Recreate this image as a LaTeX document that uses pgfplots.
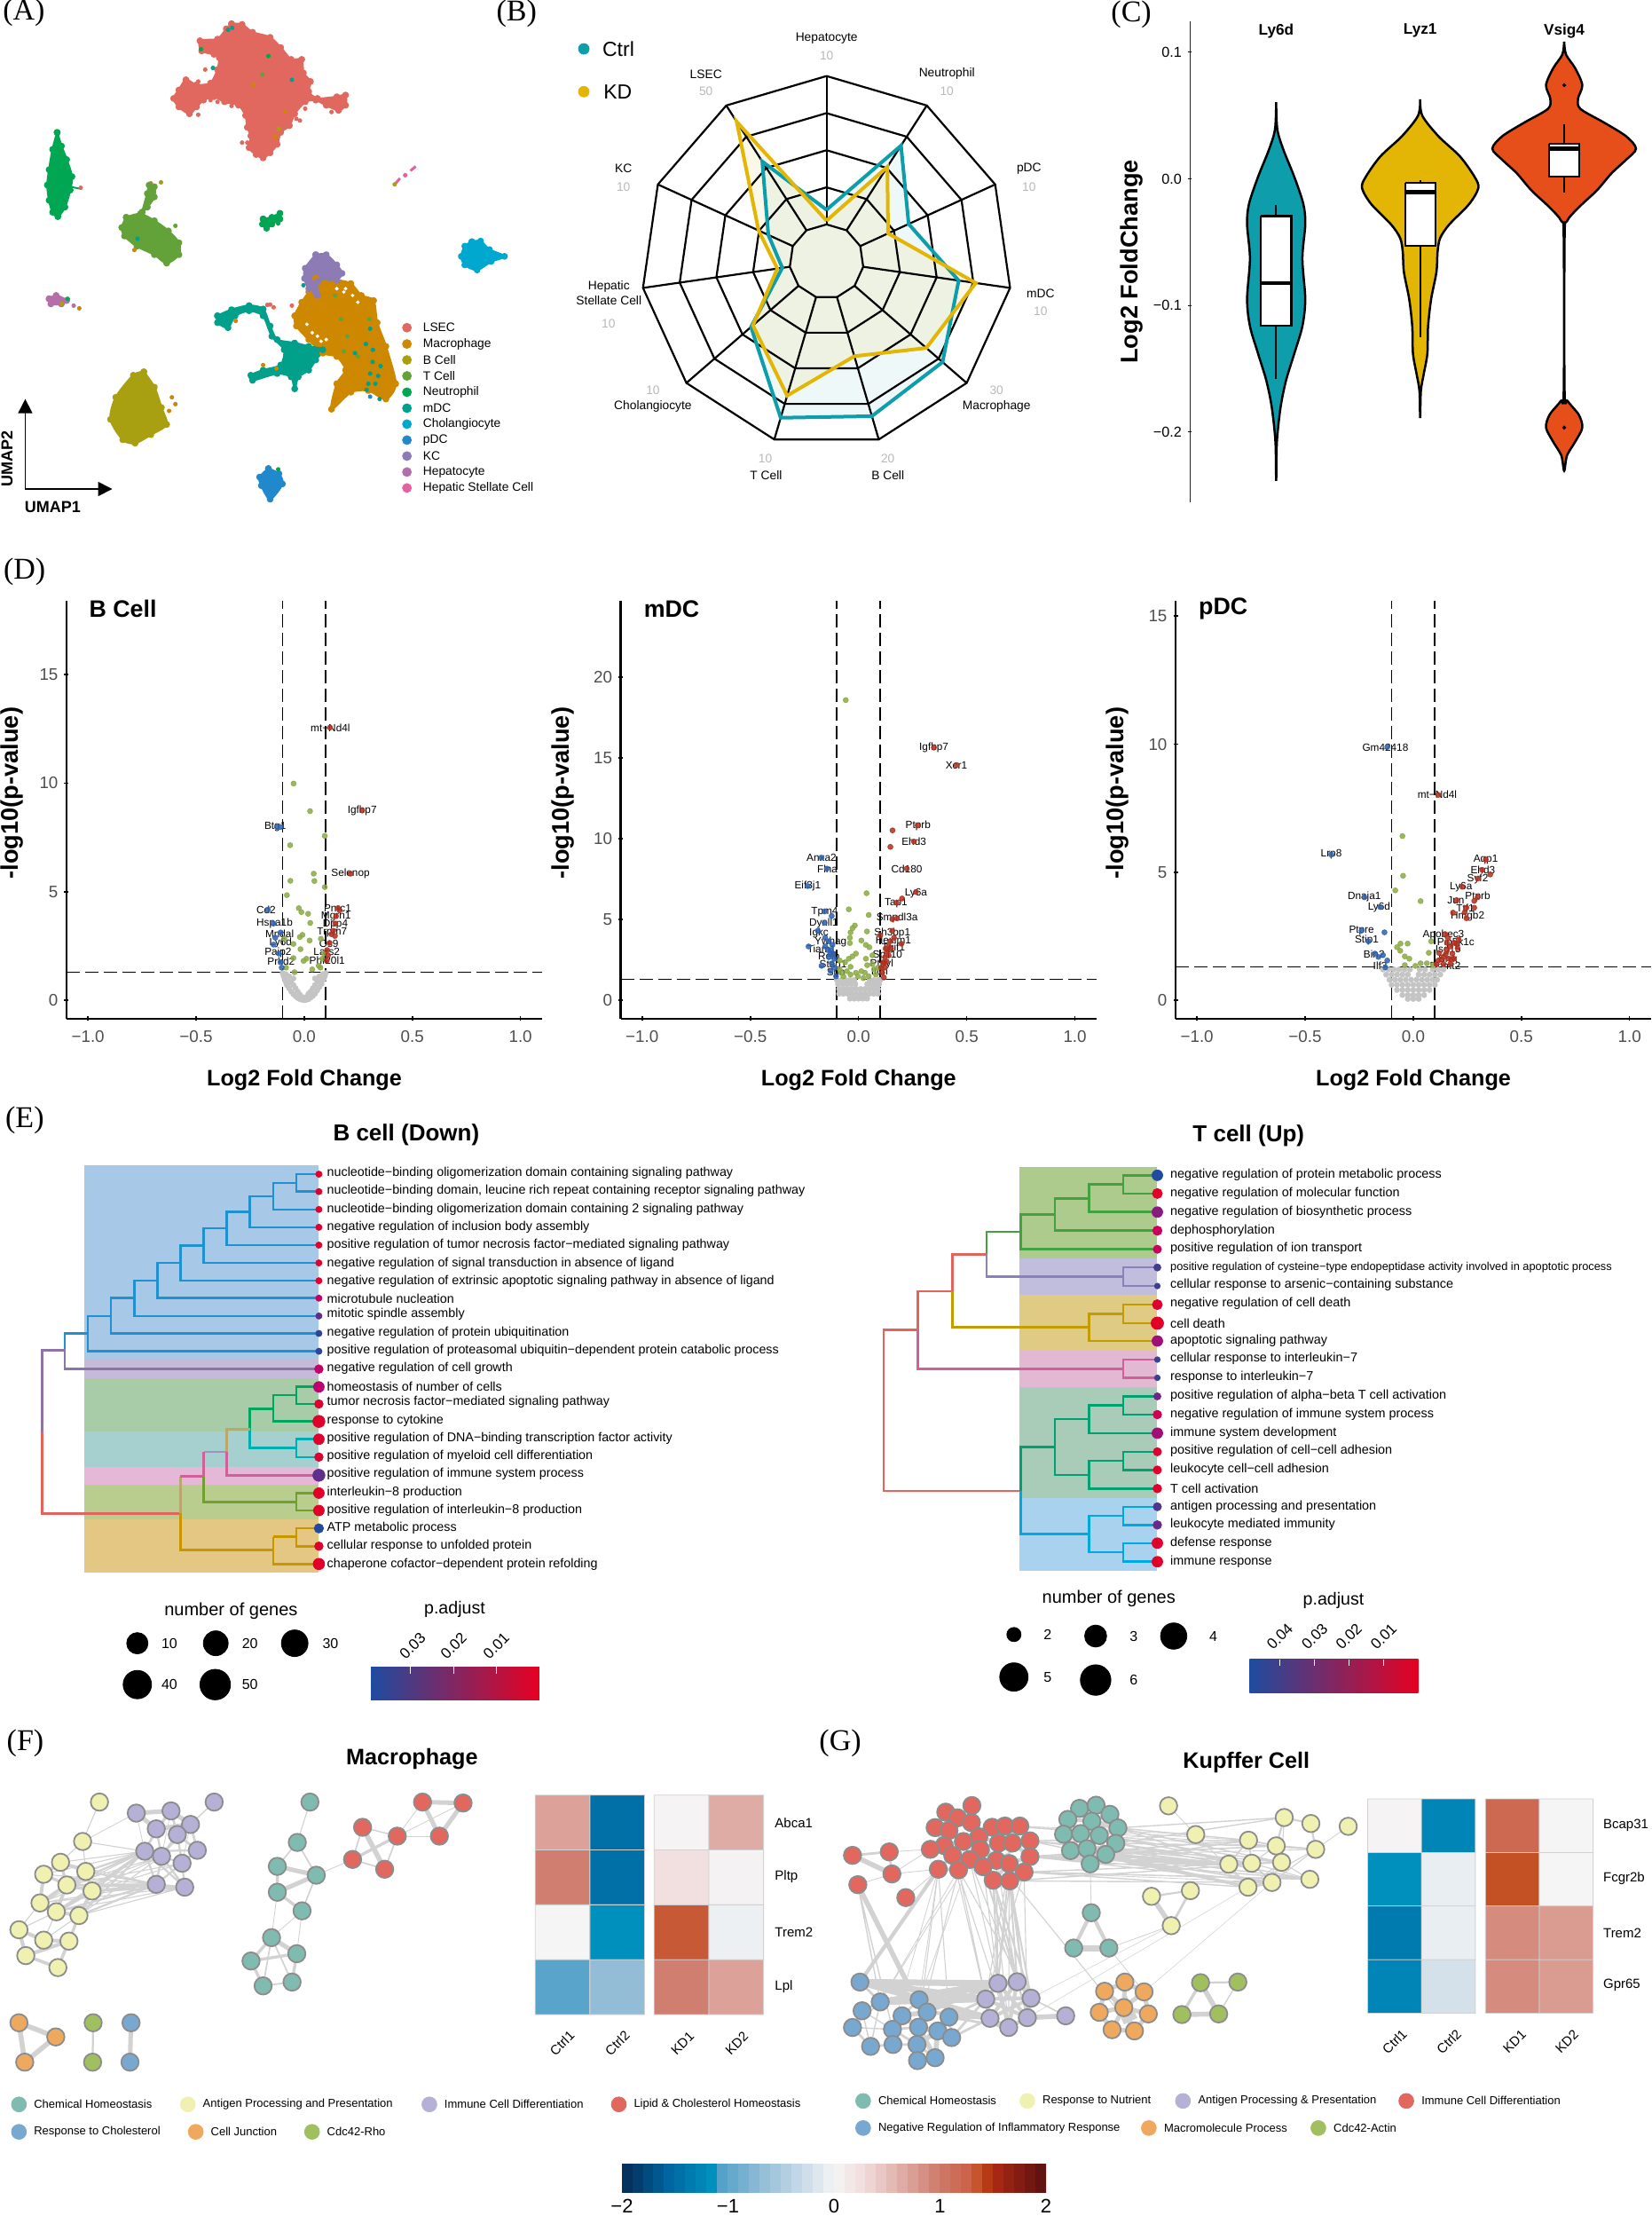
\documentclass[border=0pt]{standalone}
\usepackage{fontspec}
\setmainfont{Liberation Sans}
\newfontfamily\panelfont{Liberation Serif}
\usepackage{pgfplots}
\usepackage{pgfplotstable}
\usepgfplotslibrary{polar}
\usetikzlibrary{arrows.meta}
\pgfplotsset{compat=1.18}

\newcommand\fs[1]{\fontsize{#1}{#1}\selectfont}

% cluster colours
\definecolor{lsec}{HTML}{E0685F}\definecolor{macro}{HTML}{CE8800}\definecolor{bcell}{HTML}{A8A010}
\definecolor{tcell}{HTML}{62A238}\definecolor{neut}{HTML}{00A651}\definecolor{mdc}{HTML}{00A08A}
\definecolor{chol}{HTML}{00A8D0}\definecolor{pdc}{HTML}{2288CC}\definecolor{kc}{HTML}{8C7BB5}
\definecolor{hep}{HTML}{B46FA8}\definecolor{hsc}{HTML}{E85FA0}
\definecolor{ctrl}{HTML}{0E9DAB}\definecolor{kd}{HTML}{E3B505}\definecolor{vs}{HTML}{E64E1A}
\definecolor{tk}{HTML}{4D4D4D}\definecolor{vgray}{HTML}{C4C4C4}
\definecolor{vgreen}{HTML}{8BAA45}\definecolor{vred}{HTML}{B0301F}\definecolor{vblue}{HTML}{2F62AE}
\definecolor{ntea}{HTML}{7FBBB0}\definecolor{nyel}{HTML}{F0F0B0}\definecolor{npur}{HTML}{B5B0D5}
\definecolor{nred}{HTML}{E2685F}\definecolor{nblu}{HTML}{78A8D0}\definecolor{nora}{HTML}{EEA95F}
\definecolor{ngre}{HTML}{A0C060}\definecolor{edge}{HTML}{D2D2D2}
\definecolor{eb1}{HTML}{A8C8E8}\definecolor{eb2}{HTML}{C5BAD8}\definecolor{eb3}{HTML}{A8CBA8}\definecolor{eb4}{HTML}{A6CFD0}
\definecolor{eb5}{HTML}{E6B8D8}\definecolor{eb6}{HTML}{B9CD8F}\definecolor{eb7}{HTML}{E3C783}
\definecolor{tb1}{HTML}{AECB8E}\definecolor{tb2}{HTML}{C0BEDC}\definecolor{tb3}{HTML}{E0CB85}\definecolor{tb4}{HTML}{E2B8D3}
\definecolor{tb5}{HTML}{A8CCB8}\definecolor{tb6}{HTML}{A8D2EE}
\definecolor{l1}{HTML}{2190CF}\definecolor{l2}{HTML}{8E73A8}\definecolor{l3}{HTML}{E2645C}\definecolor{l4}{HTML}{00A560}
\definecolor{l5}{HTML}{00AEB0}\definecolor{l6}{HTML}{B9A76D}\definecolor{l7}{HTML}{D0609A}\definecolor{l8}{HTML}{6FA030}
\definecolor{l9}{HTML}{C89600}\definecolor{l10}{HTML}{9C94BE}
\definecolor{t1}{HTML}{45A040}\definecolor{t2}{HTML}{8B80BC}\definecolor{t3}{HTML}{C29C00}\definecolor{t4}{HTML}{00A070}\definecolor{t5}{HTML}{00A8E0}
\definecolor{pa}{HTML}{1F4CA0}\definecolor{pb}{HTML}{C0006E}\definecolor{pc}{HTML}{E60021}

\definecolor{h0}{HTML}{052A55}\definecolor{h1}{HTML}{0065A0}\definecolor{h2}{HTML}{0090BE}\definecolor{h3}{HTML}{4C9FC8}
\definecolor{h4}{HTML}{8FBBD6}\definecolor{h5}{HTML}{C8DAE8}\definecolor{h6}{HTML}{F5F5F5}\definecolor{h7}{HTML}{F0DCDB}
\definecolor{h8}{HTML}{DDA59D}\definecolor{h9}{HTML}{CF7A6A}\definecolor{h10}{HTML}{CC6045}\definecolor{h11}{HTML}{C04A15}
\definecolor{h12}{HTML}{AD2A15}\definecolor{h13}{HTML}{5A0F0F}
\pgfplotsset{
  colormap={padj}{rgb255(0pt)=(230,0,33); rgb255(1pt)=(192,0,110); rgb255(2pt)=(31,76,160)},
  colormap={rdbu}{color(0pt)=(h0); color(45pt)=(h1); color(85pt)=(h2); color(90pt)=(h3);
    color(130pt)=(h4); color(170pt)=(h5); color(200pt)=(h6); color(230pt)=(h7); color(270pt)=(h8);
    color(300pt)=(h9); color(330pt)=(h10); color(340pt)=(h11); color(350pt)=(h12); color(400pt)=(h13)},
  crop/.style n args={4}{at={(#1*0.5pt,{(2497-#2-#4)*0.5pt})},anchor=south west,scale only axis,
    width=#3*0.5pt,height=#4*0.5pt},
  zoomed/.style n args={4}{crop={#1}{#2}{#3}{#4},xmin=0,xmax=1568,ymin=0,ymax=1568,y dir=reverse,
    hide axis,clip=false},
  volcano/.style={scale only axis,clip=false,axis x line=bottom,axis y line=left,
    axis line style={line width=1.2pt,-},xmin=-1.099,xmax=1.1,xtick={-1,-0.5,0,0.5,1},
    xticklabels={−1.0,−0.5,0.0,0.5,1.0},xlabel={Log2 Fold Change},ylabel={-log10(p-value)},
    tick style={black,line width=0.8pt},major tick length=2.5pt,
    /pgf/number format/assume math mode=true,
    tick label style={font=\fs{9.4},text=tk},
    xticklabel style={yshift=-2pt},
    xlabel style={font=\fs{12.6}\bfseries,at={(axis description cs:0.5,-0.147)},anchor=center},
  },
  tips/.style={scatter,only marks,mark=*,point meta=\thisrow{p},
    scatter/use mapped color={fill=mapped color,draw=mapped color},
    visualization depends on={\thisrow{r}\as\rr},
    scatter/@pre marker code/.append style={/tikz/mark size=\rr pt}},
  vg/.style={only marks,mark=*,mark size=1.45pt,color=vgray,mark options={fill=vgray,draw=vgray}},
  vc/.style={only marks,mark=*,mark size=1.45pt,color=#1,mark options={fill=#1,draw=#1,fill opacity=0.85,draw opacity=0.85}},
}
\newcommand\glab[3]{\node[font=\fs{5.9},text=black] at (axis cs:#1,#2) {#3};}
\newcommand\vlines[2]{\addplot[black,line width=0.8pt,dash pattern=on 7.5pt off 3pt] coordinates {(-0.1,#1)(-0.1,#2)};
  \addplot[black,line width=0.8pt,dash pattern=on 7.5pt off 3pt] coordinates {(0.1,#1)(0.1,#2)};
  \addplot[black,line width=0.7pt,dash pattern=on 7.5pt off 3pt] coordinates {(-1.099,1.3)(1.1,1.3)};}
\newcommand\rectp[5]{\addplot[fill=#5,draw=none] coordinates {(#1,#2)(#3,#2)(#3,#4)(#1,#4)};}
\newcommand\segs[2]{\addplot[color=#1,line width=1.3pt,line join=miter] coordinates {#2};}
\newcommand\blob[2]{\addplot[fill=#1,draw=#1,line width=1.2pt,line join=round,smooth,tension=0.45,mark=*,mark size=1.3pt,mark options={fill=#1,draw=#1}] coordinates {#2};}
\newcommand\pts[3][1.05pt]{\addplot[only marks,mark=*,mark size=#1,mark options={fill=#2,draw=#2}] coordinates {#3};}
\newcommand\lgd[3]{\addplot[only marks,mark=*,mark size=2.5pt,mark options={fill=#1,draw=#1}] coordinates {(1160,#2)};
  \node[anchor=west,font=\fs{6.9},inner sep=0pt] at (axis cs:1205,#2) {#3};}
\newcommand\gtt[2]{\node[anchor=west,font=\fs{7.15},inner sep=0pt] at (axis cs:621,#1) {#2};}
\newcommand\guu[3][7.2]{\node[anchor=west,font=\fs{#1},inner sep=0pt] at (axis cs:654,#2) {#3};}
\newcommand\edg[2]{\addplot[edge,line width=#1*1.4,line join=round] coordinates {#2};}
\newcommand\nod[2]{\addplot[only marks,mark=*,mark size=4.9pt,mark options={fill=#1,draw=gray!90,line width=0.9pt}] coordinates {#2};}
\newcommand\szd[2]{\addplot[only marks,mark=*,mark size=#1,mark options={fill=black,draw=black}] coordinates {#2};}
\newcommand\txt[3]{\node[font=#1] at (axis cs:#2) {#3};}
\newcommand\nlg[4]{\addplot[only marks,mark=*,mark size=4.2pt,mark options={fill=#1,draw=#1}] coordinates {(#2,#3)};
  \node[anchor=west,font=\fs{6.5},inner sep=0pt] at (axis cs:#2+28,#3) {#4};}
\newcommand\tick[3]{\addplot[white,line width=0.5pt] coordinates {(#1,#2)(#1,#3)};}

\pgfplotstableread{
t r1 r2 r3 r4 r5
90 0.2 0.4 0.6 0.8 1
57.27 0.2 0.4 0.6 0.8 1
24.55 0.2 0.4 0.6 0.8 1
351.82 0.2 0.4 0.6 0.8 1
319.09 0.2 0.4 0.6 0.8 1
286.36 0.2 0.4 0.6 0.8 1
253.64 0.2 0.4 0.6 0.8 1
220.91 0.2 0.4 0.6 0.8 1
188.18 0.2 0.4 0.6 0.8 1
155.45 0.2 0.4 0.6 0.8 1
122.73 0.2 0.4 0.6 0.8 1
90 0.2 0.4 0.6 0.8 1
}\radargrid
\pgfplotstableread{
t ctrl kd
90 0.279 0.22
57.27 0.743 0.607
24.55 0.487 0.365
351.82 0.72 0.813
319.09 0.828 0.712
286.36 0.869 0.532
253.64 0.878 0.754
220.91 0.539 0.525
188.18 0.241 0.268
155.45 0.345 0.403
122.73 0.641 0.896
90 0.279 0.22
}\radardata

\begin{document}
\begin{tikzpicture}
\path[use as bounding box] (0,0) rectangle (931pt,1248.5pt);

% (A) UMAP
\begin{axis}[zoomed={0}{0}{620}{600}]
\blob{lsec}{(660,70)(690,72)(720,95)(770,110)(800,140)(830,175)(860,175)(865,215)(885,240)(880,270)(905,290)(960,285)(985,280)(985,310)(965,325)(930,310)(900,295)(870,300)(840,335)(825,370)(800,390)(790,425)(770,450)(750,465)(730,455)(710,435)(715,400)(705,375)(700,340)(680,310)(640,300)(610,285)(580,295)(560,315)(540,335)(510,315)(495,290)(510,265)(530,235)(560,250)(600,245)(620,205)(625,170)(610,160)(575,150)(570,120)(620,115)(645,85)(660,70)}
\pts{lsec}{(565,240)(585,205)(690,420)(705,420)(855,355)(870,320)(845,350)(945,330)(565,338)(600,295)(620,300)(660,312)(430,540)(770,897)(780,905)(762,898)(832,900)(230,553)}
\blob{neut}{(163,390)(175,430)(190,470)(205,520)(200,560)(185,610)(165,638)(150,625)(140,590)(135,545)(140,500)(150,440)(163,390)}
\addplot[neut,line width=1pt] coordinates {(200,550)(225,555)};
\blob{neut}{(750,645)(775,640)(798,628)(798,645)(775,660)(760,672)(748,660)(750,645)}
\blob{tcell}{(360,640)(400,630)(440,650)(480,680)(510,715)(510,750)(475,775)(440,750)(390,725)(355,695)(347,670)(360,640)}
\blob{tcell}{(405,625)(420,570)(425,545)(440,550)(440,580)(420,610)(405,625)}
\blob{chol}{(1345,712)(1370,710)(1395,735)(1438,755)(1400,770)(1360,795)(1325,780)(1315,755)(1325,725)(1345,712)}
\addplot[hsc,line width=1.5pt] coordinates {(1128,540)(1140,525)};
\addplot[hsc,line width=1.5pt] coordinates {(1170,503)(1185,490)};
\pts{hsc}{(1155,516)}
\blob{macro}{(900,820)(960,825)(1000,835)(1030,870)(1065,885)(1075,950)(1100,1020)(1128,1130)(1100,1175)(1050,1150)(1000,1155)(945,1205)(960,1130)(985,1090)(960,1050)(920,1040)(880,1000)(845,960)(840,930)(860,890)(880,860)(900,820)}
\blob{kc}{(900,750)(930,750)(960,780)(975,805)(960,825)(940,820)(905,830)(905,870)(880,850)(868,820)(870,790)(900,750)}
\blob{mdc}{(620,930)(660,912)(710,900)(750,910)(770,960)(790,1000)(840,1010)(880,1020)(920,1030)(900,1060)(880,1090)(850,1110)(840,1145)(830,1110)(790,1100)(720,1120)(715,1105)(750,1090)(800,1075)(810,1030)(775,990)(750,930)(710,915)(670,930)(650,965)(620,950)(620,930)}
\blob{hep}{(140,880)(160,870)(190,885)(175,895)(145,895)(140,880)}
\blob{bcell}{(410,1095)(440,1140)(460,1200)(475,1250)(430,1280)(385,1305)(350,1295)(315,1235)(330,1170)(380,1105)(410,1095)}
\blob{pdc}{(765,1380)(795,1395)(805,1425)(770,1470)(745,1430)(740,1405)(765,1380)}
\pts[0.8pt]{white}{(980,860)(905,990)(930,1000)(890,980)(1005,870)(1020,890)(960,850)(985,850)(915,1005)(875,955)}
\pts{mdc}{(650,88)(662,82)(607,200)(832,235)(392,703)(1043,1013)(1063,1030)(1012,1040)(1062,1066)(1085,1078)(1055,1100)(1078,1107)(1050,1130)(1070,1130)(1045,1148)(1082,1175)(1055,968)(865,840)}
\pts{neut}{(573,145)(765,165)(793,658)(193,880)(793,1382)}
\pts{tcell}{(748,220)(500,665)(972,940)(1053,940)(990,990)(980,1035)(1020,1050)(955,870)}
\pts{macro}{(723,250)(813,327)(785,403)(383,736)(490,1170)(500,1190)(482,1210)(226,908)(750,1075)(788,1085)(672,945)}
\pts{bcell}{(795,380)(459,537)(1125,543)(176,895)}
\pts{pdc}{(1055,1168)}
\pts{hep}{(210,900)}
\lgd{lsec}{965}{LSEC}\lgd{macro}{1013}{Macrophage}\lgd{bcell}{1060}{B Cell}\lgd{tcell}{1107}{T Cell}
\lgd{neut}{1155}{Neutrophil}\lgd{mdc}{1202}{mDC}\lgd{chol}{1249}{Cholangiocyte}\lgd{pdc}{1296}{pDC}
\lgd{kc}{1343}{KC}\lgd{hep}{1390}{Hepatocyte}\lgd{hsc}{1437}{Hepatic Stellate Cell}
\addplot[black,line width=0.8pt,-{Triangle[length=8pt,width=8pt]}] coordinates {(72,1440)(72,1175)};
\addplot[black,line width=0.8pt,-{Triangle[length=8pt,width=8pt]}] coordinates {(72,1440)(320,1440)};
\node[font=\fs{9}\bfseries,rotate=90] at (axis cs:20,1350) {UMAP2};
\node[font=\fs{9}\bfseries] at (axis cs:150,1493) {UMAP1};
\node[font=\fs{17}\panelfont] at (axis cs:68,38) {(A)};
\end{axis}

% (B) radar, radius fraction against angle
\begin{polaraxis}[at={(465.8pt,1101.15pt)},anchor=center,scale only axis,width=209pt,height=209pt,
  xmin=0,xmax=360,ymin=0,ymax=1,hide axis,clip=false]
\addplot[fill=ctrl,fill opacity=0.07,draw=none] table[x=t,y=ctrl] {\radardata};
\addplot[fill=kd,fill opacity=0.09,draw=none] table[x=t,y=kd] {\radardata};
\addplot[black,line width=1.1pt] table[x=t,y=r1] {\radargrid};
\addplot[black,line width=1.1pt] table[x=t,y=r2] {\radargrid};
\addplot[black,line width=1.1pt] table[x=t,y=r3] {\radargrid};
\addplot[black,line width=1.1pt] table[x=t,y=r4] {\radargrid};
\addplot[black,line width=1.1pt] table[x=t,y=r5] {\radargrid};
\pgfplotsinvokeforeach{90,57.27,24.55,351.82,319.09,286.36,253.64,220.91,188.18,155.45,122.73}{
  \addplot[black,line width=1.1pt] coordinates {(#1,0.2)(#1,1)};}
\addplot[ctrl,line width=2pt,line join=miter] table[x=t,y=ctrl] {\radardata};
\addplot[kd,line width=2pt,line join=miter] table[x=t,y=kd] {\radardata};
\end{polaraxis}
\begin{axis}[zoomed={560}{0}{660}{600}]
\addplot[only marks,mark=*,mark size=3pt,mark options={fill=ctrl,draw=ctrl}] coordinates {(233,144)};
\addplot[only marks,mark=*,mark size=3pt,mark options={fill=kd,draw=kd}] coordinates {(233,270)};
\node[font=\fs{11.5},anchor=west,inner sep=0pt] at (axis cs:282,145) {Ctrl};
\node[font=\fs{11.5},anchor=west,inner sep=0pt] at (axis cs:285,272) {KD};
\txt{\fs{6.9}}{883,113}{Hepatocyte}\txt{\fs{6.9}}{1205,217}{Neutrophil}\txt{\fs{6.9}}{1425,497}{pDC}
\txt{\fs{6.9}}{1456,865}{mDC}\txt{\fs{6.9}}{1338,1198}{Macrophage}\txt{\fs{6.9}}{1047,1400}{B Cell}
\txt{\fs{6.9}}{721,1400}{T Cell}\txt{\fs{6.9}}{418,1196}{Cholangiocyte}\txt{\fs{6.9}}{300,843}{Hepatic}
\txt{\fs{6.9}}{300,885}{Stellate Cell}\txt{\fs{6.9}}{339,497}{KC}\txt{\fs{6.9}}{560,218}{LSEC}
\txt{\fs{6.9}\color{black!28}}{883,163}{10}\txt{\fs{6.9}\color{black!28}}{1205,268}{10}\txt{\fs{6.9}\color{black!28}}{1425,550}{10}
\txt{\fs{6.9}\color{black!28}}{1456,916}{10}\txt{\fs{6.9}\color{black!28}}{1338,1148}{30}\txt{\fs{6.9}\color{black!28}}{1047,1351}{20}
\txt{\fs{6.9}\color{black!28}}{719,1351}{10}\txt{\fs{6.9}\color{black!28}}{418,1148}{10}\txt{\fs{6.9}\color{black!28}}{299,953}{10}
\txt{\fs{6.9}\color{black!28}}{339,550}{10}\txt{\fs{6.9}\color{black!28}}{560,268}{50}
\node[font=\fs{17}\panelfont] at (axis cs:53,40) {(B)};
\end{axis}

% (C) violins
\begin{axis}[crop={1341}{24}{521}{542},xmin=0.4,xmax=3.61,ymin=-0.2554,ymax=0.1245,clip=false,
  axis x line=none,axis y line=left,axis line style={-,line width=0.5pt,color=black!75!brown},
  ytick={-0.2,-0.1,0,0.1},yticklabels={−0.2,−0.1,0.0,0.1},tick style={black,line width=0.5pt},major tick length=2pt,
  tick label style={font=\fs{8.1}},ylabel={Log2 FoldChange},
  ylabel style={font=\fs{13.6}\bfseries,at={(axis description cs:-0.125,0.5)},anchor=center}]
\addplot[fill=ctrl,draw=black,line width=1.25pt,smooth,tension=0.5] coordinates {
(1,0.0606)(1.008,0.0392)(1.05,0.0231)(1.126,0.0016)(1.189,-0.0199)(1.202,-0.036)(1.182,-0.0628)(1.202,-0.095)(1.182,-0.1164)(1.126,-0.1379)(1.068,-0.1594)(1.03,-0.1808)(1.005,-0.2077)(1,-0.2385)
(0.995,-0.2077)(0.97,-0.1808)(0.932,-0.1594)(0.874,-0.1379)(0.818,-0.1164)(0.798,-0.095)(0.818,-0.0628)(0.798,-0.036)(0.811,-0.0199)(0.874,0.0016)(0.95,0.0231)(0.992,0.0392)(1,0.0606)};
\addplot[fill=kd,draw=black,line width=1.25pt,smooth,tension=0.5] coordinates {
(2,0.0628)(2.015,0.0499)(2.126,0.0338)(2.277,0.0177)(2.378,0.0016)(2.404,-0.0072)(2.34,-0.0199)(2.202,-0.036)(2.139,-0.0467)(2.121,-0.0574)(2.113,-0.0735)(2.076,-0.095)(2.055,-0.1164)(2.05,-0.1379)(2.025,-0.154)(2.005,-0.1674)(2,-0.1889)
(1.995,-0.1674)(1.975,-0.154)(1.95,-0.1379)(1.945,-0.1164)(1.924,-0.095)(1.887,-0.0735)(1.879,-0.0574)(1.861,-0.0467)(1.798,-0.036)(1.66,-0.0199)(1.596,-0.0072)(1.622,0.0016)(1.723,0.0177)(1.874,0.0338)(1.985,0.0499)(2,0.0628)};
\addplot[fill=vs,draw=black,line width=1.25pt,smooth,tension=0.5] coordinates {
(3,0.1084)(3.013,0.0982)(3.076,0.0875)(3.126,0.0741)(3.096,0.0633)(3.113,0.0553)(3.277,0.0445)(3.429,0.0338)(3.499,0.0239)(3.429,0.015)(3.328,0.0043)(3.227,-0.0091)(3.101,-0.0225)(3.02,-0.0333)(3.003,-0.0467)(3.003,-0.1674)(3.025,-0.1755)(3.101,-0.1862)(3.126,-0.1964)(3.076,-0.2077)(3.02,-0.2184)(3,-0.2305)
(2.98,-0.2184)(2.924,-0.2077)(2.874,-0.1964)(2.899,-0.1862)(2.975,-0.1755)(2.997,-0.1674)(2.997,-0.0467)(2.98,-0.0333)(2.899,-0.0225)(2.773,-0.0091)(2.672,0.0043)(2.571,0.015)(2.501,0.0239)(2.571,0.0338)(2.723,0.0445)(2.887,0.0553)(2.904,0.0633)(2.874,0.0741)(2.924,0.0875)(2.987,0.0982)(3,0.1084)};
% whiskers, boxes, medians
\addplot[black,line width=1pt] coordinates {(1,-0.0204)(1,-0.158)};
\addplot[fill=white,draw=black,line width=1.1pt] coordinates {(0.895,-0.0293)(1.105,-0.0293)(1.105,-0.1159)(0.895,-0.1159)(0.895,-0.0293)};
\addplot[black,line width=2.2pt] coordinates {(0.895,-0.0824)(1.105,-0.0824)};
\addplot[black,line width=1pt] coordinates {(2,-0.001)(2,-0.1253)};
\addplot[fill=white,draw=black,line width=1.1pt] coordinates {(1.895,-0.003)(2.105,-0.003)(2.105,-0.0526)(1.895,-0.0526)(1.895,-0.003)};
\addplot[black,line width=2.2pt] coordinates {(1.895,-0.0105)(2.105,-0.0105)};
\addplot[black,line width=1pt] coordinates {(3,0.0432)(3,-0.0105)};
\addplot[fill=white,draw=black,line width=1.1pt] coordinates {(2.895,0.0276)(3.105,0.0276)(3.105,0.0016)(2.895,0.0016)(2.895,0.0276)};
\addplot[black,line width=2.2pt] coordinates {(2.895,0.0239)(3.105,0.0239)};
\addplot[only marks,mark=*,mark size=0.9pt,black] coordinates {(3,0.0741)(3,-0.1964)};
\node[font=\fs{8.6}\bfseries] at (axis cs:1,0.117) {Ly6d};
\node[font=\fs{8.6}\bfseries] at (axis cs:2,0.117) {Lyz1};
\node[font=\fs{8.6}\bfseries] at (axis cs:3,0.117) {Vsig4};
\node[font=\fs{17}\panelfont] at (axis cs:-0.006,0.13) {(C)};
\end{axis}

% (D) volcano plots
\begin{axis}[volcano,crop={75}{677}{536}{471},ymin=-0.857,ymax=18.4,ytick={0,5,10,15},
  ylabel style={font=\fs{13.6}\bfseries,at={(axis description cs:-0.114,0.54)},anchor=center}]
\addplot[vg] coordinates {
(-0.1,1.25)(-0.095,1.1)(-0.09,0.95)(-0.085,0.85)(-0.08,0.7)(-0.07,0.55)(-0.06,0.4)(-0.05,0.28)(-0.04,0.18)(-0.03,0.1)(-0.02,0.05)(-0.01,0.02)(0,0)(0.01,0.02)(0.02,0.05)(0.03,0.12)(0.04,0.2)(0.05,0.3)(0.06,0.45)(0.07,0.6)(0.08,0.75)(0.09,0.95)(0.095,1.1)(0.1,1.25)
(-0.07,1.1)(-0.06,0.9)(-0.05,0.7)(-0.04,0.55)(-0.03,0.4)(-0.02,0.25)(-0.01,0.15)(0,0.1)(0.01,0.15)(0.02,0.3)(0.03,0.4)(0.04,0.55)(0.05,0.7)(0.06,0.9)(0.07,1.1)(-0.085,1.2)(0.085,1.2)(-0.08,1)(0.08,1)(-0.07,0.8)(0.07,0.85)(0.05,1)(-0.05,1)};
\addplot[vc=vgreen] coordinates {
(-0.049,9.98)(0.027,8.71)(0.095,7.57)(-0.065,7.14)(0.044,5.83)(-0.064,5.5)(0.047,5.49)(0.095,5.21)(-0.08,4.84)(-0.025,4.24)(-0.013,4.06)(0.018,3.98)(0.028,3.56)(-0.008,3.01)(-0.02,2.91)(0.025,2.75)(-0.092,2.83)(-0.05,2.59)(0.077,2.83)(-0.017,2.35)(-0.05,1.94)(0.01,1.91)(-0.003,1.81)(-0.084,1.5)(-0.045,1.29)(0.037,1.42)(0.067,1.59)(0.084,1.91)(0.092,2.15)(0.075,1.5)};
\addplot[vc=vred] coordinates {
(0.119,12.56)(0.268,8.74)(0.214,5.83)(0.156,4.24)(0.164,4.14)(0.147,3.87)(0.144,3.53)(0.134,3.2)(0.126,3.04)(0.142,2.96)(0.117,2.64)(0.106,2.31)(0.11,2.07)(0.104,1.83)};
\addplot[vc=vblue] coordinates {
(-0.126,7.98)(-0.109,7.98)(-0.168,4.17)(-0.142,3.53)(-0.109,3.12)(-0.134,2.88)(-0.142,2.56)(-0.117,2.15)(-0.109,1.75)(-0.104,1.5)};
\vlines{-0.857}{18.4}
\glab{0.121}{12.54}{mt−Nd4l}\glab{0.268}{8.74}{Igfbp7}\glab{-0.134}{7.98}{Btg1}\glab{0.214}{5.83}{Selenop}
\glab{0.154}{4.24}{Pnrc1}\glab{-0.176}{4.17}{Cd2}\glab{0.147}{3.87}{Mgrn1}\glab{0.144}{3.5}{Dpp4}
\glab{-0.137}{3.53}{Hspa1b}\glab{0.129}{3.12}{Trpm7}\glab{-0.114}{3.07}{Mndal}\glab{-0.109}{2.64}{Ly6d}
\glab{0.114}{2.59}{Os9}\glab{0.104}{2.22}{Lars2}\glab{-0.121}{2.2}{Paip2}\glab{0.106}{1.81}{Phf20l1}\glab{-0.107}{1.78}{Prkd2}
\node[font=\fs{13.4}\bfseries,anchor=west,inner sep=0pt] at (rel axis cs:0.047,0.981) {B Cell};
\node[font=\fs{17}\panelfont] at (axis cs:-1.293,19.74) {(D)};
\end{axis}

\begin{axis}[volcano,crop={699.6}{677}{536.4}{471},ymin=-1.15,ymax=24.74,ytick={0,5,10,15,20},
  ylabel style={font=\fs{13.6}\bfseries,at={(axis description cs:-0.122,0.54)},anchor=center}]
\addplot[vg] coordinates {
(-0.04,0.1)(-0.02,0.1)(0,0.1)(0.02,0.1)(0.04,0.1)(-0.07,0.4)(-0.05,0.4)(-0.03,0.4)(-0.01,0.4)(0.01,0.4)(0.03,0.4)(0.05,0.4)(0.07,0.4)
(-0.09,0.7)(-0.07,0.7)(-0.05,0.7)(-0.03,0.7)(-0.01,0.7)(0.01,0.7)(0.03,0.7)(0.05,0.7)(0.07,0.7)(0.09,0.7)
(-0.095,1)(-0.075,1)(-0.055,1)(-0.035,1)(-0.015,1)(0.04,1)(0.06,1)(0.08,1)(0.095,1)
(-0.1,1.25)(-0.08,1.25)(-0.06,1.25)(-0.04,1.25)(-0.02,1.25)(0.05,1.25)(0.07,1.25)(0.09,1.25)(0.1,1.25)(-0.09,0.4)(0.09,0.4)};
\addplot[vc=vgreen] coordinates {
(-0.059,18.59)(0.037,6.63)(-0.045,5.63)(0.047,5.28)(-0.017,4.63)(-0.028,4.46)(-0.037,4.2)(0.039,4.26)(-0.04,3.87)(-0.04,3.54)(0.013,3.7)(0.034,3.43)(0.05,3.28)(-0.012,2.89)(-0.028,2.72)(-0.045,2.57)(0.034,2.57)(0.064,2.78)(-0.087,2.46)(-0.062,2.35)(-0.087,1.91)(-0.037,2.07)(-0.054,1.8)(0.04,2.17)(0.064,2.24)(-0.012,1.7)(0.013,1.8)(0.03,1.7)(-0.037,1.59)(-0.07,1.48)(0.047,1.48)(0.08,1.59)(0.072,1.91)(-0.003,1.48)(0.022,1.37)(0.089,2.02)(-0.079,1.7)};
\addplot[vc=vred] coordinates {
(0.348,15.65)(0.452,14.57)(0.273,10.83)(0.157,10.52)(0.256,9.83)(0.147,9.5)(0.223,8.15)(0.265,6.7)(0.201,6.3)(0.176,6.04)(0.178,5.07)(0.156,5.02)(0.156,4.3)(0.1,4.02)(0.164,3.87)(0.198,3.5)(0.147,3.65)(0.139,3.33)(0.131,3)(0.122,2.67)(0.139,2.78)(0.114,2.35)(0.105,2.02)(0.122,2.02)(0.11,1.7)(0.117,1.41)(0.125,3.2)(0.15,3.2)(0.12,2.3)(0.13,2.4)};
\addplot[vc=vblue] coordinates {
(-0.171,8.83)(-0.146,8.15)(-0.235,7.07)(-0.157,5.5)(-0.124,5.22)(-0.157,4.8)(-0.188,4.3)(-0.154,3.87)(-0.231,3.33)(-0.137,3.65)(-0.121,3.43)(-0.154,3.33)(-0.129,3.11)(-0.117,2.89)(-0.137,2.67)(-0.112,2.57)(-0.124,2.28)(-0.171,2.13)(-0.112,2.02)(-0.129,1.8)(-0.104,1.48)(-0.12,2.8)(-0.13,2.9)(-0.14,3.1)};
\vlines{-1.15}{24.74}
\glab{0.348}{15.65}{Igfbp7}\glab{0.452}{14.57}{Xcr1}\glab{0.275}{10.83}{Ptprb}\glab{0.256}{9.83}{Ehd3}\glab{0.223}{8.15}{Cd180}
\glab{0.265}{6.63}{Ly6a}\glab{0.173}{6.04}{Tap1}\glab{0.178}{5.07}{Smpdl3a}\glab{0.156}{4.18}{Sh3bp1}\glab{0.161}{3.7}{Hexim1}
\glab{0.161}{3.2}{Tgif1}\glab{0.134}{2.78}{Sp110}\glab{0.107}{2.24}{Ptpyl}\glab{0.097}{1.8}{Itch}\glab{-0.171}{8.83}{Anxa2}
\glab{-0.144}{8.15}{Flna}\glab{-0.235}{7.09}{Eif3j1}\glab{-0.157}{5.46}{Tpm4}\glab{-0.161}{4.78}{Dynll1}\glab{-0.183}{4.15}{Igkc}
\glab{-0.129}{3.63}{Ywhag}\glab{-0.171}{3.15}{Tiam1}\glab{-0.137}{2.72}{Relb}\glab{-0.117}{2.17}{Stag1}\glab{-0.104}{1.7}{Spn}
\node[font=\fs{13.4}\bfseries,anchor=west,inner sep=0pt] at (rel axis cs:0.048,0.981) {mDC};
\end{axis}

\begin{axis}[volcano,crop={1325}{677}{536}{471},ymin=-0.727,ymax=15.6,ytick={0,5,10,15},
  ylabel style={font=\fs{13.6}\bfseries,at={(axis description cs:-0.123,0.54)},anchor=center}]
\addplot[vg] coordinates {
(-0.025,0.05)(0,0.05)(0.025,0.05)(-0.05,0.2)(-0.025,0.2)(0,0.2)(0.025,0.2)(0.05,0.2)
(-0.075,0.4)(-0.05,0.4)(-0.025,0.4)(0,0.4)(0.025,0.4)(0.05,0.4)(0.075,0.4)
(-0.1,0.6)(-0.075,0.6)(-0.05,0.6)(-0.025,0.6)(0,0.6)(0.025,0.6)(0.05,0.6)(0.075,0.6)(0.1,0.6)
(-0.11,0.8)(-0.085,0.8)(-0.06,0.8)(-0.035,0.8)(-0.01,0.8)(0.015,0.8)(0.04,0.8)(0.065,0.8)(0.09,0.8)(0.11,0.8)
(-0.125,1)(-0.1,1)(-0.075,1)(-0.05,1)(-0.025,1)(0.025,1)(0.05,1)(0.075,1)(0.1,1)(0.125,1)
(-0.14,1.2)(-0.115,1.2)(-0.09,1.2)(-0.065,1.2)(-0.04,1.2)(-0.015,1.2)(0.03,1.2)(0.055,1.2)(0.09,1.2)(0.115,1.2)(0.14,1.2)};
\addplot[vc=vgreen] coordinates {
(-0.05,6.41)(-0.047,4.86)(-0.083,4.29)(0.034,3.87)(-0.026,2.21)(-0.059,2.21)(-0.075,2.07)(-0.06,1.93)(0.072,1.85)(-0.039,1.71)(-0.018,1.62)(0.083,2.3)(0.034,1.44)(0.063,1.44)(0.01,1.34)(-0.039,1.37)(0.091,1.37)};
\addplot[vc=vred] coordinates {
(0.116,8.02)(0.335,5.5)(0.319,5.09)(0.356,4.91)(0.298,4.75)(0.226,4.43)(0.2,3.91)(0.298,4.02)(0.282,3.88)(0.246,3.61)(0.282,3.61)(0.184,3.42)(0.238,3.43)(0.246,3.2)(0.148,2.58)(0.161,2.44)(0.21,2.37)(0.189,2.24)(0.205,2.03)(0.172,2.1)(0.156,1.96)(0.119,1.85)(0.181,1.82)(0.14,1.69)(0.164,1.62)(0.116,1.55)(0.189,1.62)(0.14,1.41)(0.107,1.41)(0.172,1.41)(0.156,2.24)(0.2,2.2)(0.13,1.6)(0.15,1.8)(0.175,1.6)};
\addplot[vc=vblue] coordinates {
(-0.12,9.89)(-0.379,5.69)(-0.226,4.02)(-0.153,3.64)(-0.239,2.72)(-0.133,2.65)(-0.207,2.3)(-0.177,1.82)(-0.14,1.76)(-0.161,1.69)(-0.12,1.55)(-0.129,1.28)};
\vlines{-0.727}{15.6}
\glab{-0.129}{9.88}{Gm42418}\glab{0.111}{8.02}{mt−Nd4l}\glab{-0.379}{5.69}{Lrp8}\glab{0.335}{5.5}{Aqp1}\glab{0.322}{5.08}{Ehd3}
\glab{0.298}{4.75}{Syf2}\glab{0.221}{4.42}{Ly6a}\glab{0.298}{4.05}{Ptprb}\glab{-0.226}{4.03}{Dnaja1}\glab{0.197}{3.91}{Jun}
\glab{-0.158}{3.64}{Ly6d}\glab{0.241}{3.61}{Ttf1}\glab{0.251}{3.29}{Hmgb2}\glab{-0.239}{2.72}{Ptpre}\glab{0.14}{2.55}{Apobec3}
\glab{0.197}{2.24}{Pip5k1c}\glab{-0.215}{2.33}{Stip1}\glab{0.162}{1.96}{Isg15}\glab{-0.181}{1.8}{Bin2}\glab{0.16}{1.62}{Srrk}
\glab{-0.153}{1.34}{Ilf3}\glab{0.148}{1.34}{Dnmt2}
\node[font=\fs{13.4}\bfseries,anchor=west,inner sep=0pt] at (rel axis cs:0.048,0.981) {pDC};
\end{axis}

% (E) enrichment trees: B cell
\begin{axis}[zoomed={0}{1250}{930}{670},colormap name=padj,point meta min=0,point meta max=0.04]
\rectp{161}{148}{606}{660}{eb1}\rectp{161}{660}{606}{708}{eb2}\rectp{161}{708}{606}{849}{eb3}
\rectp{161}{849}{606}{942}{eb4}\rectp{161}{942}{606}{989}{eb5}\rectp{161}{989}{606}{1081}{eb6}\rectp{161}{1081}{606}{1222}{eb7}
\segs{l1}{(606,171)(563,171)(563,217)(606,217)}\segs{l1}{(563,194)(519,194)(519,264)(606,264)}
\segs{l1}{(519,229)(475,229)(475,311)(606,311)}\segs{l1}{(475,270)(431,270)(431,358)(606,358)}
\segs{l1}{(431,314)(387,314)(387,405)(606,405)}\segs{l1}{(387,359)(343,359)(343,452)(606,452)}
\segs{l1}{(343,405)(299,405)(299,498)(606,498)}\segs{l1}{(299,452)(255,452)(255,545)(606,545)}
\segs{l1}{(255,498)(211,498)(211,591)(606,591)}\segs{l1}{(211,545)(167,545)(167,638)(606,638)}
\segs{l1}{(167,591)(123,591)(123,638)}\segs{l2}{(80,850)(80,635)(123,635)(123,685)(606,685)}
\segs{l3}{(80,850)(80,1066)(343,1066)}\segs{l6}{(343,1066)(343,968)}
\segs{l4}{(606,732)(563,732)(563,777)(606,777)}\segs{l4}{(563,754)(519,754)(519,823)(606,823)}
\segs{l4}{(519,790)(475,790)(475,845)}\segs{l5}{(475,845)(475,893)(563,893)}
\segs{l5}{(606,870)(563,870)(563,917)(606,917)}\segs{l6}{(475,843)(431,843)(431,903)}
\segs{l10}{(431,903)(387,903)}\segs{l7}{(431,903)(431,965)(606,965)}\segs{l7}{(387,903)(387,968)(343,968)}
\segs{l8}{(387,968)(387,1035)(563,1035)}\segs{l8}{(606,1012)(563,1012)(563,1058)(606,1058)}
\segs{l9}{(343,1066)(343,1162)(519,1162)}\segs{l9}{(519,1127)(563,1127)}\segs{l9}{(606,1105)(563,1105)(563,1152)(606,1152)}
\segs{l9}{(519,1127)(519,1199)(606,1199)}
\addplot[tips] table {
x y p r
606 171 0.003 1.75
606 217 0.003 1.75
606 264 0.003 1.75
606 311 0.003 1.75
606 358 0.003 1.75
606 405 0.003 1.75
606 452 0.003 1.75
606 498 0.018 1.75
606 545 0.032 1.75
606 591 0.038 1.75
606 638 0.038 1.75
606 685 0.018 2.4
606 732 0.02 3
606 777 0.004 2.4
606 823 0.003 3.4
606 870 0.003 3
606 917 0.003 2.4
606 965 0.032 3.4
606 1012 0.002 3
606 1058 0.002 3
606 1105 0.04 2.6
606 1152 0.003 2.4
606 1199 0.002 3.2
};
\gtt{169}{nucleotide−binding oligomerization domain containing signaling pathway}
\gtt{216}{nucleotide−binding domain, leucine rich repeat containing receptor signaling pathway}
\gtt{263}{nucleotide−binding oligomerization domain containing 2 signaling pathway}
\gtt{311}{negative regulation of inclusion body assembly}
\gtt{358}{positive regulation of tumor necrosis factor−mediated signaling pathway}
\gtt{406}{negative regulation of signal transduction in absence of ligand}
\gtt{453}{negative regulation of extrinsic apoptotic signaling pathway in absence of ligand}
\gtt{500}{microtubule nucleation}
\gtt{541}{mitotic spindle assembly}
\gtt{589}{negative regulation of protein ubiquitination}
\gtt{636}{positive regulation of proteasomal ubiquitin−dependent protein catabolic process}
\gtt{684}{negative regulation of cell growth}
\gtt{731}{homeostasis of number of cells}
\gtt{773}{tumor necrosis factor−mediated signaling pathway}
\gtt{820}{response to cytokine}
\gtt{867}{positive regulation of DNA−binding transcription factor activity}
\gtt{915}{positive regulation of myeloid cell differentiation}
\gtt{962}{positive regulation of immune system process}
\gtt{1010}{interleukin−8 production}
\gtt{1057}{positive regulation of interleukin−8 production}
\gtt{1104}{ATP metabolic process}
\gtt{1151}{cellular response to unfolded protein}
\gtt{1199}{chaperone cofactor−dependent protein refolding}
\szd{6pt}{(261,1408)}\szd{7pt}{(410,1408)}\szd{7.5pt}{(560,1408)}\szd{8pt}{(261,1517)}\szd{8.6pt}{(409,1517)}
\txt{\fs{8}}{322,1410}{10}\txt{\fs{8}}{475,1410}{20}\txt{\fs{8}}{628,1410}{30}\txt{\fs{8}}{322,1517}{40}\txt{\fs{8}}{475,1517}{50}
\txt{\fs{10}}{439,1322}{number of genes}\txt{\fs{9.8}}{864,1318}{p.adjust}
\fill[left color=pa,middle color=pb,right color=pc] (axis cs:705,1470) rectangle (axis cs:1025,1558);
\tick{780}{1470}{1488}\tick{862}{1470}{1488}\tick{943}{1470}{1488}
\node[font=\fs{8.5},rotate=45] at (axis cs:784,1414) {0.03};
\node[font=\fs{8.5},rotate=45] at (axis cs:862,1414) {0.02};
\node[font=\fs{8.5},rotate=45] at (axis cs:943,1414) {0.01};
\txt{\fs{13}\bfseries}{772,67}{B cell (Down)}
\node[font=\fs{17}\panelfont] at (axis cs:47,30) {(E)};
\end{axis}

% (E) T cell
\begin{axis}[zoomed={930}{1250}{932}{670},colormap name=padj,point meta min=0,point meta max=0.04]
\rectp{368}{152}{630}{393}{tb1}\rectp{368}{393}{630}{490}{tb2}\rectp{368}{490}{630}{637}{tb3}
\rectp{368}{637}{630}{733}{tb4}\rectp{368}{733}{630}{1025}{tb5}\rectp{368}{1025}{630}{1218}{tb6}
\segs{t1}{(630,174)(565,174)(565,222)(630,222)}\segs{t1}{(565,198)(500,198)(500,271)(630,271)}
\segs{t1}{(500,235)(436,235)(436,320)(630,320)}\segs{t1}{(436,278)(371,278)(371,369)(630,369)}
\segs{t1}{(371,323)(306,323)(306,382)}\segs{t2}{(306,382)(306,441)(565,441)}
\segs{t2}{(630,417)(565,417)(565,466)(630,466)}
\segs{l3}{(306,382)(241,382)(241,480)(176,480)(176,581)(111,581)(111,1006)(368,1006)}
\segs{t3}{(241,480)(241,575)(500,575)}\segs{t3}{(630,515)(565,515)(565,564)(630,564)}\segs{t3}{(565,539)(500,539)(500,611)(630,611)}
\segs{l7}{(176,581)(176,685)(565,685)}\segs{l7}{(630,660)(565,660)(565,708)(630,708)}
\segs{t4}{(630,757)(565,757)(565,805)(630,805)}\segs{t4}{(565,781)(500,781)(500,854)(630,854)}
\segs{t4}{(630,903)(565,903)(565,951)(630,951)}\segs{t4}{(565,927)(500,927)(500,1000)(630,1000)}
\segs{t4}{(500,817)(436,817)(436,964)(500,964)}\segs{t4}{(436,890)(371,890)(371,1006)}
\segs{t5}{(371,1006)(371,1120)(500,1120)}\segs{t5}{(630,1048)(565,1048)(565,1096)(630,1096)}
\segs{t5}{(630,1144)(565,1144)(565,1193)(630,1193)}\segs{t5}{(565,1072)(500,1072)(500,1168)(565,1168)}
\addplot[tips] table {
x y p r
630 174 0.04 3
630 222 0.002 2.8
630 271 0.027 3
630 320 0.015 2.6
630 369 0.015 2.3
630 417 0.036 2
630 466 0.036 1.6
630 515 0.003 2.8
630 564 0.002 3.5
630 611 0.024 3
630 660 0.037 1.6
630 708 0.037 1.6
630 757 0.03 2
630 805 0.012 2.4
630 854 0.024 3
630 903 0.004 2.3
630 951 0.003 2.3
630 1000 0.003 2.4
630 1048 0.034 2.3
630 1096 0.031 2.4
630 1144 0.003 3
630 1193 0.002 3
};
\guu{173}{negative regulation of protein metabolic process}
\guu{222}{negative regulation of molecular function}
\guu{270}{negative regulation of biosynthetic process}
\guu{319}{dephosphorylation}
\guu{367}{positive regulation of ion transport}
\guu[6.4]{417}{positive regulation of cysteine−type endopeptidase activity involved in apoptotic process}
\guu{464}{cellular response to arsenic−containing substance}
\guu{513}{negative regulation of cell death}
\guu{564}{cell death}
\guu{610}{apoptotic signaling pathway}
\guu{658}{cellular response to interleukin−7}
\guu{707}{response to interleukin−7}
\guu{755}{positive regulation of alpha−beta T cell activation}
\guu{804}{negative regulation of immune system process}
\guu{853}{immune system development}
\guu{901}{positive regulation of cell−cell adhesion}
\guu{950}{leukocyte cell−cell adhesion}
\guu{1000}{T cell activation}
\guu{1047}{antigen processing and presentation}
\guu{1095}{leukocyte mediated immunity}
\guu{1144}{defense response}
\guu{1192}{immune response}
\szd{4pt}{(358,1385)}\szd{6.2pt}{(513,1389)}\szd{7.4pt}{(661,1389)}\szd{8pt}{(358,1497)}\szd{8.6pt}{(513,1505)}
\txt{\fs{8}}{422,1386}{2}\txt{\fs{8}}{585,1389}{3}\txt{\fs{8}}{736,1389}{4}\txt{\fs{8}}{422,1498}{5}\txt{\fs{8}}{585,1505}{6}
\txt{\fs{10}}{538,1290}{number of genes}\txt{\fs{9.8}}{964,1296}{p.adjust}
\fill[left color=pa,middle color=pb,right color=pc] (axis cs:805,1450) rectangle (axis cs:1125,1538);
\tick{863}{1450}{1468}\tick{928}{1450}{1468}\tick{993}{1450}{1468}\tick{1059}{1450}{1468}
\node[font=\fs{8.5},rotate=45] at (axis cs:862,1390) {0.04};
\node[font=\fs{8.5},rotate=45] at (axis cs:928,1390) {0.03};
\node[font=\fs{8.5},rotate=45] at (axis cs:993,1390) {0.02};
\node[font=\fs{8.5},rotate=45] at (axis cs:1059,1390) {0.01};
\txt{\fs{13}\bfseries}{803,70}{T cell (Up)}
\end{axis}

% (F) Macrophage network and heatmap
\begin{axis}[zoomed={0}{1940}{930}{557},colormap name=rdbu,point meta min=-2,point meta max=2]
\edg{0.4pt}{(275,411)(175,537)(297,516)(127,518)(275,411)(163,475)(297,516)(150,615)(275,411)(107,603)(297,516)(76,575)(275,411)(83,484)(297,516)(115,446)(275,411)(175,537)(351,525)(150,615)(307,427)(127,518)(346,449)(175,537)(307,427)(76,575)(351,525)(107,603)(275,411)(150,615)(297,516)(175,537)}
\edg{0.8pt}{(275,411)(175,537)(297,516)(163,475)(275,411)(127,518)(297,516)(107,603)(275,411)(150,615)(297,516)(175,537)(351,525)(127,518)}
\edg{0.4pt}{(189,255)(157,380)(275,411)}\edg{0.3pt}{(157,380)(259,290)}\edg{0.4pt}{(157,380)(115,446)(163,475)(157,380)}
\edg{1.2pt}{(115,446)(163,475)(175,537)(127,518)(83,484)(115,446)(127,518)(163,475)}
\edg{1.4pt}{(83,484)(76,575)(107,603)(150,615)(175,537)(107,603)(127,518)(76,575)}
\edg{0.4pt}{(76,575)(36,660)(107,603)(83,693)(150,615)(131,696)}
\edg{1.5pt}{(36,660)(83,693)(131,696)(49,742)(36,660)}\edg{1.3pt}{(131,696)(110,780)(49,742)}\edg{1.2pt}{(150,615)(131,696)}
\edg{1.8pt}{(259,290)(325,283)(362,326)(297,340)(259,290)}\edg{1pt}{(297,340)(325,283)(337,358)(362,326)(375,408)(337,358)(307,427)}
\edg{0.5pt}{(407,255)(362,326)}\edg{0.8pt}{(275,411)(307,427)(346,449)(375,408)(275,411)(297,340)(307,427)(337,358)(346,449)(297,516)(351,525)(346,449)}
\edg{0.8pt}{(297,516)(275,411)(351,525)(307,427)(297,516)}\edg{0.3pt}{(259,290)(275,411)(325,283)(307,427)(362,326)(346,449)}
\edg{0.4pt}{(589,255)(565,383)}\edg{0.6pt}{(527,459)(565,383)(601,487)}\edg{1.8pt}{(527,459)(601,487)(527,541)}\edg{1.2pt}{(527,459)(527,541)(574,600)}
\edg{0.6pt}{(601,487)(574,600)}\edg{0.3pt}{(574,600)(516,685)(527,541)}\edg{0.3pt}{(574,600)(564,736)}\edg{1.8pt}{(516,685)(564,736)}
\edg{1.2pt}{(516,685)(477,759)(564,736)}\edg{1.2pt}{(477,759)(500,838)}\edg{1.2pt}{(564,736)(555,826)}\edg{0.6pt}{(500,838)(555,826)(516,685)(500,838)}
\edg{0.3pt}{(601,487)(670,437)}
\edg{1.8pt}{(803,255)(880,258)(835,363)(803,255)}\edg{0.5pt}{(689,335)(755,363)}\edg{1.2pt}{(755,363)(670,437)}\edg{2pt}{(689,335)(731,468)}
\edg{0.6pt}{(670,437)(731,468)(755,363)}\edg{0.6pt}{(689,335)(670,437)}\edg{0.3pt}{(803,255)(755,363)(880,258)}\edg{0.3pt}{(755,363)(835,363)}
\edg{2pt}{(36,955)(106,1000)(47,1080)(36,955)}\edg{0.8pt}{(177,955)(176,1080)}\edg{1.8pt}{(249,955)(247,1080)}
\nod{npur}{(407,255)(259,290)(325,283)(297,340)(362,326)(337,358)(375,408)(275,411)(307,427)(346,449)(297,516)(351,525)}
\nod{nyel}{(189,255)(157,380)(115,446)(163,475)(83,484)(127,518)(175,537)(76,575)(107,603)(150,615)(36,660)(83,693)(131,696)(49,742)(110,780)}
\nod{ntea}{(589,255)(565,383)(527,459)(601,487)(527,541)(574,600)(516,685)(564,736)(477,759)(555,826)(500,838)}
\nod{nred}{(803,255)(880,258)(689,335)(755,363)(835,363)(670,437)(731,468)}
\nod{nora}{(36,955)(106,1000)(47,1080)}\nod{ngre}{(177,955)(176,1080)}\nod{nblu}{(249,955)(247,1080)}
\addplot[matrix plot*,mesh/cols=2,point meta=explicit,draw=gray!35,line width=0.4pt] table[meta=v] {
x y v
1069 320 0.72
1173 320 -1.45
1069 494 0.97
1173 494 -1.45
1069 668 0
1173 668 -1.15
1069 842 -1.03
1173 842 -0.67
};
\addplot[matrix plot*,mesh/cols=2,point meta=explicit,draw=gray!35,line width=0.4pt] table[meta=v] {
x y v
1295 320 0.02
1399 320 0.65
1295 494 0.25
1399 494 0.03
1295 668 1.33
1399 668 -0.05
1295 842 0.97
1399 842 0.72
};
\node[font=\fs{7.5},anchor=west,inner sep=0pt] at (axis cs:1472,320) {Abca1};
\node[font=\fs{7.5},anchor=west,inner sep=0pt] at (axis cs:1472,491) {Pltp};
\node[font=\fs{7.5},anchor=west,inner sep=0pt] at (axis cs:1472,669) {Trem2};
\node[font=\fs{7.5},anchor=west,inner sep=0pt] at (axis cs:1472,840) {Lpl};
\node[font=\fs{7.5},rotate=45] at (axis cs:1068,1020) {Ctrl1};
\node[font=\fs{7.5},rotate=45] at (axis cs:1173,1020) {Ctrl2};
\node[font=\fs{7.5},rotate=45] at (axis cs:1297,1020) {KD1};
\node[font=\fs{7.5},rotate=45] at (axis cs:1400,1020) {KD2};
\nlg{ntea}{36}{1214}{Chemical Homeostasis}\nlg{nyel}{357}{1214}{Antigen Processing and Presentation}
\nlg{npur}{816}{1214}{Immune Cell Differentiation}\nlg{nred}{1176}{1214}{Lipid \& Cholesterol Homeostasis}
\nlg{nblu}{36}{1301}{Response to Cholesterol}\nlg{nora}{372}{1301}{Cell Junction}\nlg{ngre}{593}{1301}{Cdc42-Rho}
\txt{\fs{12.6}\bfseries}{783,117}{Macrophage}
\node[font=\fs{17}\panelfont] at (axis cs:48,68) {(F)};
\end{axis}

% (G) Kupffer cell network and heatmap
\begin{axis}[zoomed={920}{1940}{942}{557},colormap name=rdbu,point meta min=-2,point meta max=2]
\edg{0.5pt}{(401,428)(926,500)(390,477)(810,525)(401,378)(873,446)(363,505)(855,510)(401,428)(774,452)(390,477)(817,449)(401,378)(774,452)(566,337)(878,304)(562,386)(863,394)(543,421)(774,452)(514,451)(811,376)(401,428)(855,510)(477,409)(810,525)(543,421)(926,500)(562,386)(817,449)(531,361)(873,446)(566,337)(811,376)}
\edg{0.3pt}{(382,331)(712,358)(401,378)(811,376)(354,331)(863,394)(401,428)(937,405)(464,357)(774,452)(508,403)(855,510)(390,477)(926,500)}
\edg{1.2pt}{(401,428)(774,452)(543,421)(810,525)(855,510)}
\edg{0.4pt}{(267,470)(192,969)(229,468)(249,937)}\edg{0.4pt}{(313,460)(341,830)(338,440)(377,825)(332,503)(361,970)(362,450)(318,880)(390,477)(396,939)(363,505)(341,830)(288,437)(377,825)(313,460)(396,939)(332,503)(403,877)(267,470)(326,941)(256,424)(361,970)}
\edg{0.7pt}{(313,460)(377,825)(363,505)(403,877)(332,503)(341,830)(362,450)(396,939)}
\edg{0.3pt}{(267,470)(120,889)(288,437)(193,882)(229,468)(143,976)}
\edg{2pt}{(78,517)(170,826)}\edg{0.5pt}{(78,517)(120,889)(78,517)(143,976)}\edg{1.5pt}{(229,468)(82,826)}
\edg{0.3pt}{(142,483)(78,517)}\edg{1pt}{(68,424)(137,413)(142,483)}\edg{2pt}{(68,424)(142,483)}\edg{0.3pt}{(137,413)(214,405)(142,483)(229,468)(168,558)}
\edg{1.5pt}{(243,287)(249,345)(276,380)(305,365)(291,320)(265,305)(223,336)(240,393)(214,405)(256,424)(240,393)(276,380)(308,405)(288,437)(267,470)(229,468)(256,424)(288,437)}
\edg{1.5pt}{(330,335)(354,331)(382,331)(368,385)(342,385)(330,335)(305,365)(342,385)(308,405)(338,440)(362,450)(401,428)(368,385)(401,378)(382,331)(342,385)(338,440)(313,460)(332,503)(363,505)(390,477)(362,450)(332,503)}
\edg{0.8pt}{(292,266)(291,320)(305,365)(338,440)(401,378)}
\edg{2pt}{(494,275)(525,265)(551,294)(566,337)(562,386)(543,421)(514,451)(477,409)(464,357)(472,310)(494,275)(517,316)(566,337)(531,361)(543,421)(508,403)(477,409)(496,355)(464,357)}
\edg{1.5pt}{(517,316)(472,310)(496,355)(517,316)(551,294)(531,361)(496,355)(508,403)(531,361)(562,386)}
\edg{0.3pt}{(514,451)(516,606)}\edg{1.5pt}{(516,606)(483,718)}\edg{1.5pt}{(516,606)(549,718)}\edg{2.5pt}{(483,718)(549,718)}
\edg{0.3pt}{(661,267)(712,358)(810,525)}\edg{0.8pt}{(878,304)(928,323)(937,405)(863,394)(878,304)}\edg{0.3pt}{(998,332)(937,405)}
\edg{0.6pt}{(811,376)(863,394)(873,446)(817,449)(811,376)(774,452)(817,449)(855,510)(810,525)(774,452)}\edg{0.4pt}{(878,304)(873,446)(810,525)(937,405)(855,510)(863,394)(817,449)(926,500)(873,446)}
\edg{0.8pt}{(629,554)(702,536)}\edg{2pt}{(629,554)(666,647)}\edg{1pt}{(702,536)(666,647)}
\edg{0.3pt}{(549,718)(666,647)}\edg{0.2pt}{(396,939)(810,525)}\edg{0.2pt}{(615,857)(855,510)}\edg{0.2pt}{(403,877)(666,647)}
\edg{0.4pt}{(338,440)(597,981)}\edg{0.3pt}{(549,718)(615,857)}
\edg{2.5pt}{(82,826)(341,830)(120,889)(318,880)(82,826)(326,941)}\edg{1.5pt}{(82,826)(318,880)(193,882)(341,830)(208,921)(326,941)(193,882)(377,825)}\edg{1pt}{(249,937)(326,941)(254,1002)(318,880)(249,937)(361,970)}
\edg{1.5pt}{(341,830)(377,825)(403,877)(396,939)(361,970)(326,941)(318,880)(341,830)(396,939)(318,880)(403,877)(326,941)(377,825)(361,970)(341,830)}
\edg{2pt}{(396,939)(468,933)}\edg{0.6pt}{(403,877)(468,933)}
\edg{1pt}{(82,826)(120,889)(86,917)(68,970)(102,1030)(144,1024)(143,976)(161,933)(193,882)(208,921)(192,969)(228,981)(254,1002)(249,937)(228,981)(189,1024)(190,1075)(223,1066)(189,1024)(192,969)(143,976)(189,1024)(144,1024)}
\edg{2pt}{(192,969)(189,1024)(228,981)(223,1066)(192,969)(208,921)(161,933)(192,969)(228,981)}\edg{0.5pt}{(86,917)(102,1030)(120,889)(68,970)(143,976)(86,917)}
\edg{1.8pt}{(541,855)(579,826)(615,857)(623,927)(597,981)(555,977)(531,922)(541,855)(577,907)(615,857)}\edg{1.8pt}{(577,907)(623,927)(577,907)(597,981)(577,907)(555,977)(577,907)(531,922)(577,907)(579,826)}
\edg{6pt}{(570,880)(590,950)}
\edg{0.8pt}{(721,828)(791,826)}\edg{2pt}{(721,828)(755,927)(686,929)}\edg{1.2pt}{(721,828)(686,929)}\edg{0.5pt}{(791,826)(755,927)}
\nod{nred}{(292,266)(243,287)(265,305)(291,320)(223,336)(249,345)(330,335)(354,331)(382,331)(305,365)(276,380)(240,393)(214,405)(308,405)(342,385)(368,385)(401,378)(401,428)(256,424)(288,437)(338,440)(362,450)(229,468)(267,470)(313,460)(390,477)(332,503)(363,505)(68,424)(137,413)(142,483)(78,517)(168,558)}
\nod{ntea}{(494,275)(525,265)(551,294)(472,310)(517,316)(566,337)(464,357)(496,355)(531,361)(562,386)(477,409)(508,403)(543,421)(514,451)(516,606)(483,718)(549,718)}
\nod{nyel}{(661,267)(878,304)(928,323)(998,332)(712,358)(811,376)(863,394)(937,405)(774,452)(817,449)(873,446)(810,525)(855,510)(926,500)(629,554)(702,536)(666,647)}
\nod{npur}{(341,830)(377,825)(403,877)(318,880)(326,941)(396,939)(361,970)(468,933)}
\nod{nblu}{(82,826)(120,889)(193,882)(86,917)(208,921)(161,933)(249,937)(68,970)(143,976)(192,969)(228,981)(254,1002)(102,1030)(144,1024)(189,1024)(190,1075)(223,1066)}
\nod{nora}{(579,826)(541,855)(615,857)(577,907)(531,922)(623,927)(555,977)(597,981)}
\nod{ngre}{(721,828)(791,826)(686,929)(755,927)}
\addplot[matrix plot*,mesh/cols=2,point meta=explicit,draw=gray!35,line width=0.4pt] table[meta=v] {
x y v
1085 330 0.02
1186 330 -1.25
1085 500 -1.15
1186 500 -0.08
1085 670 -1.35
1186 670 -0.08
1085 840 -1.25
1186 840 -0.22
};
\addplot[matrix plot*,mesh/cols=2,point meta=explicit,draw=gray!35,line width=0.4pt] table[meta=v] {
x y v
1306 330 1.2
1407 330 0
1306 500 1.37
1407 500 0
1306 670 0.88
1407 670 0.77
1306 840 0.88
1407 840 0.77
};
\node[font=\fs{7.5},anchor=west,inner sep=0pt] at (axis cs:1476,328) {Bcap31};
\node[font=\fs{7.5},anchor=west,inner sep=0pt] at (axis cs:1476,497) {Fcgr2b};
\node[font=\fs{7.5},anchor=west,inner sep=0pt] at (axis cs:1476,671) {Trem2};
\node[font=\fs{7.5},anchor=west,inner sep=0pt] at (axis cs:1476,836) {Gpr65};
\node[font=\fs{7.5},rotate=45] at (axis cs:1085,1015) {Ctrl1};
\node[font=\fs{7.5},rotate=45] at (axis cs:1187,1015) {Ctrl2};
\node[font=\fs{7.5},rotate=45] at (axis cs:1310,1015) {KD1};
\node[font=\fs{7.5},rotate=45] at (axis cs:1408,1015) {KD2};
\nlg{ntea}{88}{1203}{Chemical Homeostasis}\nlg{nyel}{396}{1203}{Response to Nutrient}
\nlg{npur}{688}{1203}{Antigen Processing \& Presentation}\nlg{nred}{1107}{1203}{Immune Cell Differentiation}
\nlg{nblu}{88}{1289}{Negative Regulation of Inflammatory Response}\nlg{nora}{624}{1289}{Macromolecule Process}\nlg{ngre}{942}{1289}{Cdc42-Actin}
\txt{\fs{12.6}\bfseries}{807,130}{Kupffer Cell}
\node[font=\fs{17}\panelfont] at (axis cs:45,68) {(G)};
\end{axis}

% shared colour key
\begin{axis}[crop={701}{2438}{478}{33},hide axis,xmin=0,xmax=1,ymin=0,ymax=1,
  colormap name=rdbu,point meta min=-2,point meta max=2,colorbar horizontal,colorbar sampled,
  colorbar shift/.style={},
  colorbar style={samples=41,at={(parent axis.south west)},anchor=south west,
    width=239pt,height=16.5pt,xtick={-2,-1,0,1,2},xticklabels={−2,−1,0,1,2},
    major tick length=0pt,tick label style={font=\fs{11}},axis line style={draw=none}}]
\addplot[draw=none] coordinates {(0,0)(1,1)};
\end{axis}
\end{tikzpicture}
\end{document}
